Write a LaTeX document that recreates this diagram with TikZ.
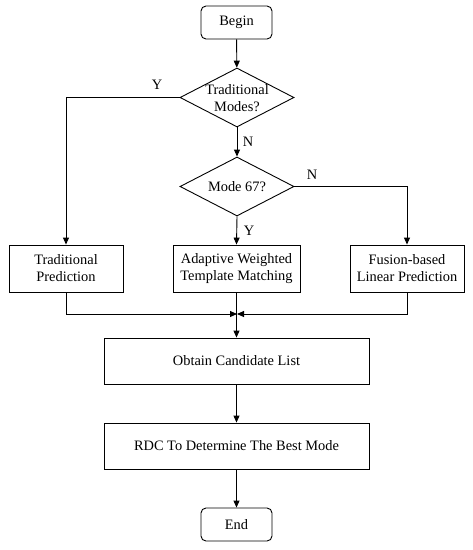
\documentclass[tikz,border=0pt]{standalone}
\usepackage{fontspec}
\setmainfont{Liberation Serif}
\usetikzlibrary{shapes.geometric,arrows.meta}
\begin{document}
\begin{tikzpicture}[x=1pt,y=-1pt,
  every node/.style={font=\fontsize{14.4}{17}\selectfont},
  term/.style={draw,rounded corners=5pt,minimum width=71pt,minimum height=33pt,inner sep=0pt},
  proc/.style={draw,minimum height=47pt,inner sep=0pt,align=center},
  dec/.style={draw,diamond,aspect=1.93,minimum width=114pt,minimum height=59pt,inner sep=0pt},
  dectext/.style={inner sep=0pt,align=center},
  arr/.style={-{Triangle[length=7pt,width=6pt]}},
  lbl/.style={inner sep=0pt},
  line width=0.9pt]
\useasboundingbox (0,0) rectangle (473,550);
\node[term] (begin) at (236.5,22.5) {Begin};
\node[dec] (tm) at (237,97.5) {};
\node[dectext] (tmtext) at (237,98.5) {Traditional\\Modes?};
\node[dec] (m67) at (237,186.5) {};
\node[dectext] (m67text) at (237,186.5) {Mode 67?};
\node[proc,minimum width=114pt] (tp) at (66,268.5) {Traditional\\Prediction};
\node[proc,minimum width=127pt] (aw) at (236.5,268.5) {Adaptive Weighted\\Template Matching};
\node[proc,minimum width=114pt] (fl) at (407,268.5) {Fusion-based\\Linear Prediction};
\coordinate (merge) at (237,314);
\node[proc,minimum width=265pt,minimum height=46pt] (ocl) at (236.5,361) {Obtain Candidate List};
\node[proc,minimum width=265pt,minimum height=46pt] (rdc) at (236.5,446) {RDC To Determine The Best Mode};
\node[term] (end) at (236.5,524.5) {End};
\draw[arr] (begin) -- (tm);
\draw[arr] (tm.west) -- (tp.north |- tm.west) -- (tp.north);
\node[lbl] (ly1) at (157,85) {Y};
\draw[arr] (tm.south) -- (m67.north);
\node[lbl] (ln1) at (248,142) {N};
\draw[arr] (m67.south) -- (aw.north);
\node[lbl] (ly2) at (249,231) {Y};
\draw[arr] (m67.east) -- (fl.north |- m67.east) -- (fl.north);
\node[lbl] (ln2) at (312,175) {N};
\draw[arr] (tp.south) -- (tp.south |- merge) -- (merge);
\draw[arr] (fl.south) -- (fl.south |- merge) -- (merge);
\draw[arr] (aw.south) -- (ocl.north);
\draw[arr] (ocl) -- (rdc);
\draw[arr] (rdc) -- (end);
\end{tikzpicture}
\end{document}
